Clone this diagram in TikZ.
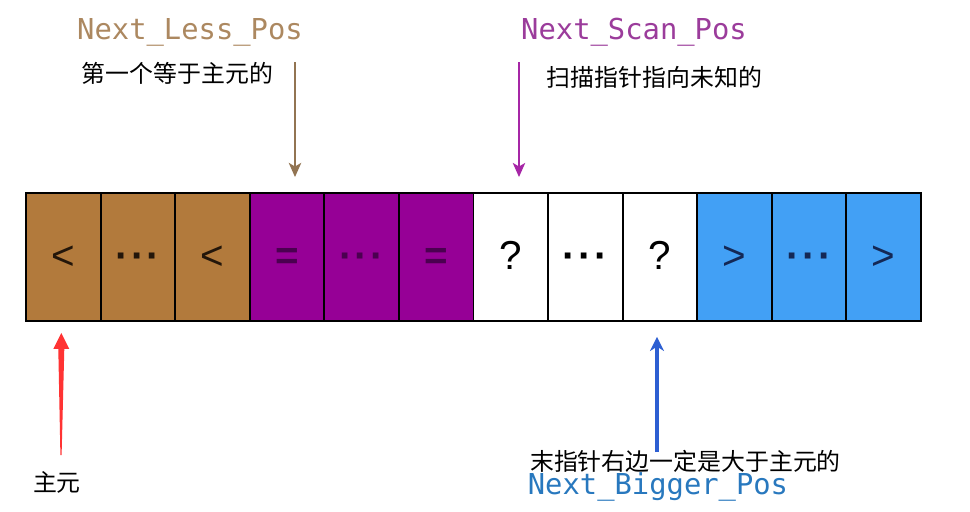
\documentclass[tikz,border=0pt]{standalone}
\usepackage{fontspec}
\setmainfont{Liberation Sans}
\newfontfamily\codefont{DejaVu Sans Mono}
\newfontfamily\cjk{Noto Sans CJK SC}
\usetikzlibrary{arrows.meta,calc}
\definecolor{lessbrown}{RGB}{178,122,60}
\definecolor{eqpurple}{RGB}{150,0,150}
\definecolor{bigblue}{RGB}{66,160,245}
\definecolor{lesstext}{RGB}{172,136,96}
\definecolor{scantext}{RGB}{155,60,155}
\definecolor{bigtext}{RGB}{40,120,190}
\definecolor{bigarrow}{RGB}{45,95,210}
\definecolor{ltsign}{RGB}{35,22,10}
\definecolor{eqsign}{RGB}{75,0,80}
\definecolor{gtsign}{RGB}{20,40,85}
\newcommand{\celldots}{\textbf{·\kern1.3pt·\kern1.3pt·}}
\tikzset{
    CE/.style ={rectangle,minimum width = 1.492cm, minimum height = 2.56cm, draw, line width=1.1pt,
                inner sep=0pt, text height=18pt, text depth=4pt, font=\fontsize{23}{23}\selectfont},
    BR/.style ={CE, fill=lessbrown, text=ltsign},
    PU/.style ={CE, fill=eqpurple, text=eqsign},
    WH/.style ={CE, fill=white},
    BL/.style ={CE, fill=bigblue, text=gtsign},
    CN/.style ={inner sep=0pt, font=\cjk\fontsize{13.6}{14}\selectfont},
    CO/.style ={inner sep=0pt, font=\codefont\fontsize{16.4}{17}\selectfont},
    AR/.style ={line width=#1, shorten >=0.3cm}}

\begin{document}
\begin{tikzpicture}[x=0.02cm,y=-0.02cm]
        \useasboundingbox (0,0) rectangle (970,511);
        \node[BR] (1) at(63.3,257){<};
        \node[BR] (2) at(137.9,257){\celldots};
        \node[BR] (3) at(212.4,257){<};
        \node[PU] (4) at(287.0,257){\textbf{=}};
        \node[PU] (5) at(361.6,257){\celldots};
        \node[PU] (6) at(436.2,257){\textbf{=}};
        \node[WH] (7) at(510.8,257){?};
        \node[WH] (8) at(585.4,257){\celldots};
        \node[WH] (9) at(660.0,257){?};
        \node[BL] (10) at(734.6,257){>};
        \node[BL] (11) at(809.2,257){\celldots};
        \node[BL] (12) at(883.7,257){>};
        \node[CO,text=lesstext] (lessname) at(190,32){Next\_Less\_Pos};
        \node[CN] (lessnote) at(177.5,73){第一个等于主元的};
        \node[CO,text=scantext] (scanname) at(634,32){Next\_Scan\_Pos};
        \node[CN] (scannote) at(654.5,77){扫描指针指向未知的};
        \node[CN] (pivot) at(57,482){主元};
        \node[CO,text=bigtext] (bigname) at(658,487){Next\_Bigger\_Pos};
        \coordinate (lesstail) at(295,62);
        \coordinate (scantail) at(519,62);
        \coordinate (bigtail) at(657,452);
        \coordinate (ptail) at(61,455);
        \coordinate (ptip) at($(1.south)+(-2,11)$);
        \draw[AR=1.4pt,lesstext!85!black,-{Stealth[length=8pt,width=7pt,inset=2pt]}] (lesstail) --(lesstail |- 4.north);
        \draw[AR=1.3pt,eqpurple!85!white,-{Stealth[length=8pt,width=7pt,inset=2pt]}] (scantail) --(scantail |- 7.north);
        \draw[AR=2.2pt,bigarrow,-{Stealth[length=8pt,width=8pt,inset=2.5pt]}] (bigtail) --(bigtail |- 9.south);
        \fill[red!80!white] (ptail) -- ++(-0.6,0) -- ($(ptip)+(-3,16)$) -- ($(ptip)+(-8,16)$) -- (ptip)
            -- ($(ptip)+(8,16)$) -- ($(ptip)+(3,16)$) -- ($(ptail)+(0.6,0)$) -- cycle;
        \node[CN] (bignote) at(685.5,461){末指针右边一定是大于主元的};
    \end{tikzpicture}
\end{document}
